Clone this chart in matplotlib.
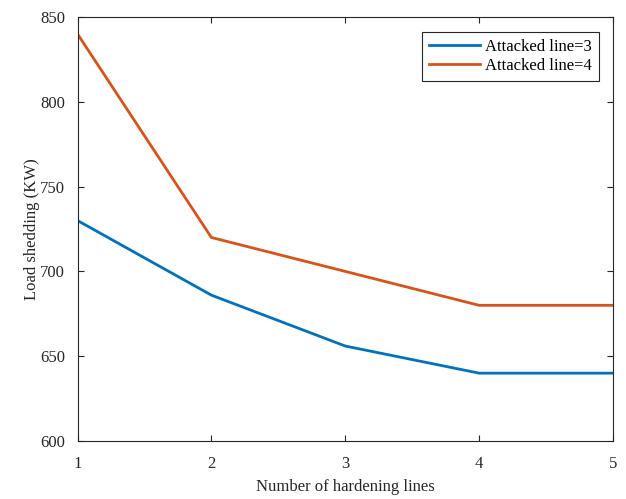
import matplotlib
matplotlib.use("Agg")
import matplotlib.pyplot as plt

x = [1, 2, 3, 4, 5]
attacked3 = [730, 686, 656, 640, 640]
attacked4 = [840, 720, 700, 680, 680]
labels = ["Attacked line=3", "Attacked line=4"]
xticks = [1, 2, 3, 4, 5]
yticks = [600, 650, 700, 750, 800, 850]

plt.rcParams['font.family'] = ['Liberation Serif', 'DejaVu Serif']
fs = 12

fig = plt.figure(figsize=(6.26, 4.99), dpi=100)
ax = fig.add_axes([77.5/626, 1 - 441/499, (613-77.5)/626, (441-17)/499])
ax.plot(x, attacked3, color='#0072BD', lw=2.0, label=labels[0])
ax.plot(x, attacked4, color='#D95319', lw=2.0, label=labels[1])
ax.set_xlim(1, 5)
ax.set_ylim(600, 850)
ax.set_xticks(xticks)
ax.set_yticks(yticks)
ax.tick_params(direction='in', length=4, width=0.8, labelsize=fs, colors='#262626',
               top=True, right=True, labelcolor='#262626')
ax.tick_params(axis='x', pad=11)
ax.tick_params(axis='y', pad=9)
for s in ax.spines.values():
    s.set_color('#262626')
    s.set_linewidth(0.8)
ax.set_xlabel("Number of hardening lines", fontsize=fs, color='#262626', labelpad=5)
ax.set_ylabel("Load shedding (KW)", fontsize=fs, color='#262626', labelpad=0)
leg = ax.legend(loc='upper right', fontsize=fs, frameon=True, fancybox=False,
                edgecolor='#262626', framealpha=1, handlelength=3.1,
                bbox_to_anchor=(1 - 14/535.5, 1 - 15/424), borderaxespad=0,
                borderpad=0.4, labelspacing=0.2, handletextpad=0.3)
leg.get_frame().set_linewidth(0.8)
fig.savefig("out.png", dpi=100)
